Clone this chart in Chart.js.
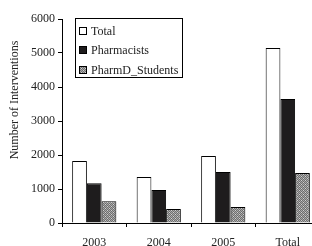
<!DOCTYPE html>
<html lang="en">
  <head>
    <meta charset="UTF-8">
    <script src="https://cdn.jsdelivr.net/npm/chart.js"></script>
    <title>Interventions</title>
    <style>
      html, body{margin: 0; padding: 0; overflow: hidden; background: #fff;}
      #wrap{width: 320px; height: 246px; position: relative;}
    </style>
  </head>
  <body>
    <div id="wrap">
      <canvas id="myChart" width="320" height="246"></canvas>
    </div>
    <script>
      // data
      const years = ['2003', '2004', '2005', 'Total'];
      const seriesNames = ['Total', 'Pharmacists', 'PharmD_Students'];
      const totalVals = [1820, 1350, 1970, 5150];
      const pharmacistVals = [1170, 970, 1500, 3650];
      const studentVals = [640, 410, 470, 1470];
      const yTicks = [0, 1000, 2000, 3000, 4000, 5000, 6000];

      const serif = '"Liberation Serif", "DejaVu Serif", serif';

      // grey speckled fill for the students
      function makePattern(){
        const c = document.createElement('canvas');
        c.width = 4; c.height = 4;
        const g = c.getContext('2d');
        g.fillStyle = '#a8a8a8';
        g.fillRect(0, 0, 4, 4);
        g.fillStyle = '#6e6e6e';
        for(let i = 0; i < 4; i++){
          g.fillRect(i, i, 1, 1);
          g.fillRect((i + 2) % 4, i, 1, 1);
        }
        g.fillStyle = '#d0d0d0';
        g.fillRect(1, 0, 1, 1);
        g.fillRect(3, 2, 1, 1);
        return g.createPattern(c, 'repeat');
      }
      const hatch = makePattern();

      // y title + boxed legend drawn on the canvas
      const extras = {
        id: 'extras',
        afterDraw(chart){
          const ctx = chart.ctx;
          ctx.save();
          ctx.fillStyle = '#222';
          ctx.font = '12px ' + serif;
          ctx.textAlign = 'center';
          ctx.textBaseline = 'middle';
          ctx.translate(15, 100);
          ctx.rotate(-Math.PI / 2);
          ctx.fillText('Number of Interventions', 0, 0);
          ctx.restore();

          // legend
          ctx.save();
          ctx.fillStyle = '#fff';
          ctx.fillRect(75, 18, 107, 59);
          ctx.strokeStyle = '#000';
          ctx.lineWidth = 1;
          ctx.strokeRect(75.5, 18.5, 107, 59);
          const rows = [31, 50, 70];
          chart.data.datasets.forEach(function(ds, i){
            ctx.fillStyle = ds.backgroundColor;
            ctx.fillRect(79, rows[i] - 4, 8, 8);
            ctx.strokeStyle = '#000';
            ctx.strokeRect(79.5, rows[i] - 3.5, 7, 7);
            ctx.fillStyle = '#222';
            ctx.font = '12px ' + serif;
            ctx.textAlign = 'left';
            ctx.textBaseline = 'middle';
            ctx.fillText(ds.label, 91, rows[i] + 1);
          });
          ctx.restore();
        }
      };

      const ctx = document.getElementById('myChart');
      new Chart(ctx, {
        type: 'bar',
        data: {
          labels: years,
          datasets: [
            {label: seriesNames[0], data: totalVals, backgroundColor: '#fff'},
            {label: seriesNames[1], data: pharmacistVals, backgroundColor: '#1e1c1d'},
            {label: seriesNames[2], data: studentVals, backgroundColor: hatch}
          ]
        },
        options: {
          responsive: false,
          animation: false,
          events: [],
          layout: {padding: {top: 19, right: 0, left: 0, bottom: 0}},
          datasets: {
            bar: {
              borderColor: '#000',
              borderWidth: 1,
              categoryPercentage: 0.685,
              barPercentage: 1
            }
          },
          plugins: {
            legend: {display: false},
            tooltip: {enabled: false}
          },
          scales: {
            x: {
              grid: {color: '#000', drawOnChartArea: false, tickLength: 4, offset: true},
              border: {color: '#000', width: 1},
              ticks: {color: '#222', padding: 9, font: {family: serif, size: 12}},
              afterFit: function(s){ s.height = 23; }
            },
            y: {
              min: 0,
              max: 6000,
              afterBuildTicks: function(s){ s.ticks = yTicks.map(v => ({value: v})); },
              grid: {color: '#000', drawOnChartArea: false, tickLength: 4},
              border: {color: '#000', width: 1},
              ticks: {
                color: '#222', padding: 3, font: {family: serif, size: 12},
                callback: function(v){ return String(v); }
              },
              afterFit: function(s){ s.width = 62; }
            }
          }
        },
        plugins: [extras]
      });
    </script>
  </body>
</html>
